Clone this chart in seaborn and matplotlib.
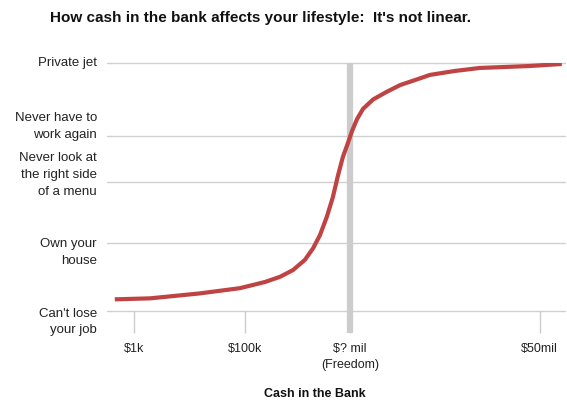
import pandas as pd
import seaborn as sns
import matplotlib.pyplot as plt

# Data (x = position along the axis, 0-100; y = lifestyle level, 0-100)
cash_pos = [1.7, 9.4, 20.3, 29.0, 34.5, 37.8, 40.6, 43.2, 45.0, 46.5, 48.0, 49.3, 50.4, 51.5,
            52.6, 53.5, 54.6, 55.9, 58.1, 61.1, 64.0, 67.7, 70.5, 76.0, 81.4, 92.4, 99.3]
lifestyle = [4.7, 5.1, 7.1, 9.2, 11.7, 13.8, 16.5, 20.6, 25.3, 30.6, 38.0, 45.8, 54.4, 62.1,
             67.7, 72.6, 77.4, 81.5, 85.3, 88.4, 91.1, 93.4, 95.2, 96.8, 98.0, 98.8, 99.6]

x_ticks = [5.9, 30.1, 53.1, 94.5]
x_labels = ["$1k", "$100k", "$? mil\n(Freedom)", "$50mil"]
freedom_x = 53.1

y_ticks = [0, 27.4, 52.0, 70.6, 100]
y_labels = ["Can't lose\nyour job", "Own your\nhouse", "Never look at\nthe right side\nof a menu",
            "Never have to\nwork again", "Private jet"]
# vertical offset of each label block (pixels) relative to its tick
y_label_shift = [-11, -9, 7, 9, 0]

df = pd.DataFrame({"cash": cash_pos, "life": lifestyle})

sns.set_style("white")
plt.rcParams['font.family'] = ['Liberation Sans', 'DejaVu Sans']

fig = plt.figure(figsize=(5.67, 4.0), dpi=100)
ax = fig.add_axes([107 / 567, 89 / 400, 458 / 567, 248 / 400])

# gridlines
for yv in y_ticks:
    ax.axhline(yv, color="#d0d0d0", lw=1, zorder=0, clip_on=False)

# freedom band
ax.axvline(freedom_x, ymin=-0.089, ymax=1.0, color="#cccccc", lw=4.5, zorder=1,
           clip_on=False, solid_capstyle="butt")

sns.lineplot(data=df, x="cash", y="life", ax=ax, color="#c04343", lw=3, zorder=3,
             solid_joinstyle="round", solid_capstyle="butt")

ax.set_xlim(0, 100)
ax.set_ylim(0, 100)
for s in ax.spines.values():
    s.set_visible(False)

ax.set_xticks(x_ticks)
ax.set_xticklabels(x_labels, fontsize=9, color="#222222", linespacing=1.45)
ax.tick_params(axis="x", bottom=True, length=16, width=1, color="#cccccc", pad=7, direction="out")
ax.set_yticks([])
ax.set_xlabel("")
ax.set_ylabel("")

for yv, lab, dy in zip(y_ticks, y_labels, y_label_shift):
    ax.annotate(lab, xy=(0, yv), xycoords=("axes fraction", "data"),
                xytext=(-10, dy), textcoords="offset pixels",
                ha="right", va="center", fontsize=9.5, color="#222222",
                linespacing=1.55, annotation_clip=False)

fig.text(261 / 567, 1 - 18 / 400, "How cash in the bank affects your lifestyle:  It's not linear.",
         ha="center", va="center", fontsize=11, fontweight="bold", color="#111111")
fig.text(315 / 567, 1 - 394 / 400, "Cash in the Bank", ha="center", va="center",
         fontsize=9, fontweight="bold", color="#111111")

fig.savefig("out.png", dpi=100)
